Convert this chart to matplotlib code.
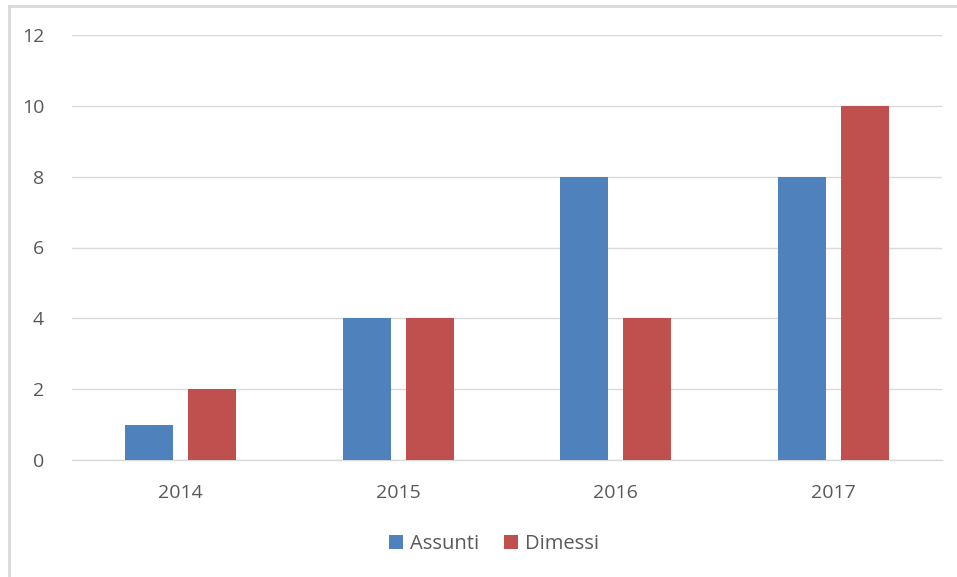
import numpy as np
import matplotlib
matplotlib.use("Agg")
import matplotlib.pyplot as plt
from matplotlib.patches import Patch
from matplotlib.lines import Line2D

# --- data ----------------------------------------------------------------
years = ["2014", "2015", "2016", "2017"]
assunti = [1, 4, 8, 8]
dimessi = [2, 4, 4, 10]
y_ticks = [0, 2, 4, 6, 8, 10, 12]

BLUE = "#4F81BD"
RED = "#C0504D"
GRID = "#D9D9D9"
TEXT = "#595959"

plt.rcParams["font.family"] = ["Open Sans", "DejaVu Sans"]

fig = plt.figure(figsize=(9.57, 5.77), dpi=100)
ax = fig.add_axes([72 / 957, 117 / 577, 870 / 957, 425 / 577])

x = np.arange(len(years))
width = 0.22
off = 0.145
ax.bar(x - off, assunti, width, color=BLUE, zorder=3)
ax.bar(x + off, dimessi, width, color=RED, zorder=3)

ax.set_xlim(-0.5, len(years) - 0.5)
ax.set_ylim(0, 12)
ax.set_yticks(y_ticks)
ax.set_xticks(x)
ax.set_xticklabels(years)
ax.yaxis.grid(True, color=GRID, lw=1, zorder=0)
ax.set_axisbelow(True)
for s in ("top", "right", "left"):
    ax.spines[s].set_visible(False)
ax.spines["bottom"].set_color(GRID)
ax.spines["bottom"].set_linewidth(1)
ax.tick_params(axis="both", length=0, colors=TEXT, labelsize=14)
ax.tick_params(axis="y", pad=20)
ax.tick_params(axis="x", pad=17)

handles = [Patch(fc=BLUE, label="Assunti"), Patch(fc=RED, label="Dimessi")]
leg = fig.legend(handles=handles, loc="center", bbox_to_anchor=(494 / 957, 1 - 544 / 577),
                 ncol=2, frameon=False, fontsize=14.5, handlelength=0.7, handleheight=0.7,
                 handletextpad=0.35, columnspacing=1.2)
for t in leg.get_texts():
    t.set_color(TEXT)

# light frame on the left and top edges, as in the source image
fig.add_artist(Line2D([9 / 957, 9 / 957], [0, 1 - 6 / 577], transform=fig.transFigure,
                      color=GRID, lw=2))
fig.add_artist(Line2D([9 / 957, 1], [1 - 6 / 577, 1 - 6 / 577], transform=fig.transFigure,
                      color=GRID, lw=2))

fig.savefig("out.png", dpi=100)
